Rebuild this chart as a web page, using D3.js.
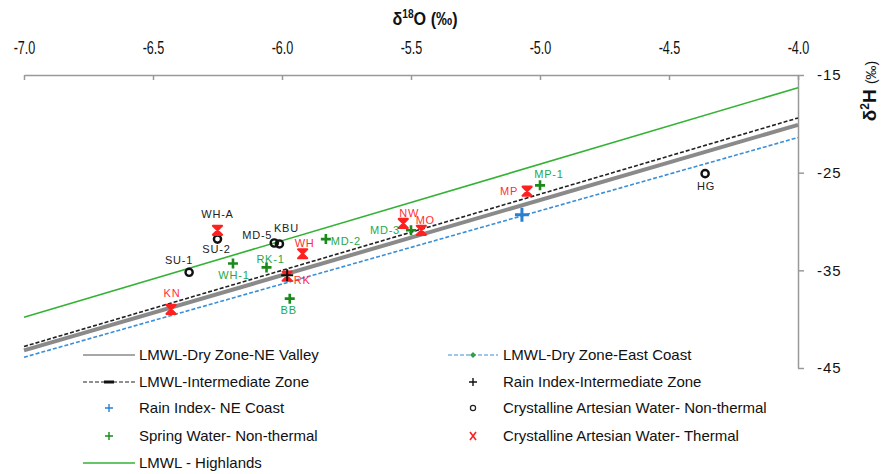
<!DOCTYPE html>
<html>
<head>
<meta charset="utf-8">
<script src="https://cdn.jsdelivr.net/npm/d3@7"></script>
<style>
  body { margin: 0; background: #fff; }
  svg { font-family: "Liberation Sans", Arial, sans-serif; }
</style>
</head>
<body>
<div id="chart"></div>
<script>
// LMWL lines, values at both ends of the x range
var lineX = [-7.0, -4.0];
var highlandsY = [-39.8, -16.3];
var neValleyY = [-43.2, -20.1];
var intermediateY = [-42.8, -19.4];
var eastCoastY = [-43.9, -21.4];

// Crystalline artesian water - non-thermal
var nonThermalNames = ["SU-1", "SU-2", "MD-5", "KBU", "HG"];
var nonThermalX = [-6.36, -6.25, -6.03, -6.01, -4.36];
var nonThermalY = [-35.2, -31.8, -32.2, -32.3, -25.1];

// Crystalline artesian water - thermal
var thermalNames = ["KN", "WH-A", "WH", "RK", "NW", "MO", "MP"];
var thermalX = [-6.43, -6.25, -5.92, -5.98, -5.53, -5.46, -5.05];
var thermalY = [-39.0, -30.9, -33.3, -35.6, -30.2, -30.9, -26.9];

// Spring water - non-thermal
var springNames = ["WH-1", "RK-1", "MD-2", "BB", "MD-3", "MP-1"];
var springX = [-6.19, -6.06, -5.83, -5.97, -5.50, -5.00];
var springY = [-34.3, -34.7, -31.8, -37.9, -30.9, -26.3];

// rain indexes
var rainNEX = [-5.07], rainNEY = [-29.3];
var rainInterX = [-5.98], rainInterY = [-35.5];

var xTicks = [-7.0, -6.5, -6.0, -5.5, -5.0, -4.5, -4.0];
var yTicks = [-15, -25, -35, -45];

var legendLeft = ["LMWL-Dry Zone-NE Valley", "LMWL-Intermediate Zone", "Rain Index- NE Coast", "Spring Water- Non-thermal", "LMWL - Highlands"];
var legendRight = ["LMWL-Dry Zone-East Coast", "Rain Index-Intermediate Zone", "Crystalline Artesian Water- Non-thermal", "Crystalline Artesian Water- Thermal"];

// thermal sample whose label is printed in black
var blackLabels = ["WH-A"];

// label offsets (px) for the point names
var nonThermalOff = [[-10, -12], [-1, 10], [-17, -8], [7, -16], [1, 13]];
var thermalOff = [[1, -16], [0, -16], [2, -11], [15, 4], [6, -10], [4, -10], [-18, 0]];
var springOff = [[1, 12], [4, -8], [20, 2], [-1, 11], [-26, 0], [9, -11]];

var W = 883, H = 474;
var svg = d3.select("#chart").append("svg")
    .attr("width", W).attr("height", H);

var x = d3.scaleLinear().domain([-7, -4]).range([24, 798]);
var y = d3.scaleLinear().domain([-15, -45]).range([75, 368]);

// top axis
var xAxis = svg.append("g")
    .attr("transform", "translate(0," + y(-15) + ")")
    .call(d3.axisTop(x).tickValues(xTicks).tickSizeInner(-5).tickSizeOuter(0).tickPadding(21)
        .tickFormat(function(d) { return d.toFixed(1); }));
xAxis.selectAll("text")
    .attr("transform", "scale(0.7,1)")
    .style("font-size", "18px").attr("fill", "#111");

// right axis
var yAxis = svg.append("g")
    .attr("transform", "translate(" + x(-4) + ",0)")
    .call(d3.axisRight(y).tickValues(yTicks).tickSizeInner(6).tickSizeOuter(0).tickPadding(13)
        .tickFormat(function(d) { return d; }));
yAxis.selectAll("text")
    .style("font-size", "15px").style("letter-spacing", "1px").attr("fill", "#111");

svg.selectAll(".domain, .tick line").attr("stroke", "#999").attr("stroke-width", 1.5);

// axis titles
var xt = svg.append("text").attr("transform", "translate(425,25) scale(0.85,1)").attr("text-anchor", "middle")
    .style("font-weight", "bold").style("font-size", "19px").attr("fill", "#111");
xt.append("tspan").text("δ");
xt.append("tspan").attr("dy", -7).style("font-size", "12px").text("18");
xt.append("tspan").attr("dy", 7).text("O (‰)");

var yt = svg.append("text").attr("transform", "translate(876,91) rotate(-90)")
    .attr("text-anchor", "middle").attr("fill", "#111").style("font-size", "19px");
yt.append("tspan").style("font-weight", "bold").text("δ");
yt.append("tspan").attr("dy", -7).style("font-size", "12px").style("font-weight", "bold").text("2");
yt.append("tspan").attr("dy", 7).style("font-weight", "bold").text("H ");
yt.append("tspan").style("font-size", "14px").text("(‰)");

// LMWL lines
var line = d3.line().x(function(d) { return x(d[0]); }).y(function(d) { return y(d[1]); });
function pairs(ys) { return lineX.map(function(v, i) { return [v, ys[i]]; }); }

svg.append("path").datum(pairs(highlandsY)).attr("d", line)
    .attr("fill", "none").attr("stroke", "#33b233").attr("stroke-width", 1.6);
svg.append("path").datum(pairs(neValleyY)).attr("d", line)
    .attr("fill", "none").attr("stroke", "#8a8a8a").attr("stroke-width", 4);
svg.append("path").datum(pairs(intermediateY)).attr("d", line)
    .attr("fill", "none").attr("stroke", "#222").attr("stroke-width", 1.6).attr("stroke-dasharray", "4,2");
svg.append("path").datum(pairs(eastCoastY)).attr("d", line)
    .attr("fill", "none").attr("stroke", "#3a8fd8").attr("stroke-width", 1.6).attr("stroke-dasharray", "4,2");

function zip(names, xs, ys, offs) {
    return xs.map(function(v, i) { return {name: names ? names[i] : "", x: v, y: ys[i], off: offs ? offs[i] : [0, 0]}; });
}

var plusPath = function(s) { return "M" + (-s) + ",0H" + s + "M0," + (-s) + "V" + s; };
var glassPath = function(s) { return "M" + (-s) + "," + (-s) + "H" + s + "L" + (-s) + "," + s + "H" + s + "Z"; };

// spring water
svg.append("g").selectAll("path").data(zip(springNames, springX, springY, springOff)).enter()
    .append("path").attr("d", plusPath(5))
    .attr("transform", function(d) { return "translate(" + x(d.x) + "," + y(d.y) + ")"; })
    .attr("stroke", "#1a8a1a").attr("stroke-width", 2.6).attr("fill", "none");

// rain index NE coast
svg.append("g").selectAll("path").data(zip(null, rainNEX, rainNEY)).enter()
    .append("path").attr("d", plusPath(7))
    .attr("transform", function(d) { return "translate(" + x(d.x) + "," + y(d.y) + ")"; })
    .attr("stroke", "#2a7fd0").attr("stroke-width", 3).attr("fill", "none");

// non-thermal
svg.append("g").selectAll("circle").data(zip(nonThermalNames, nonThermalX, nonThermalY, nonThermalOff)).enter()
    .append("circle").attr("cx", function(d) { return x(d.x); }).attr("cy", function(d) { return y(d.y); })
    .attr("r", 3.6).attr("fill", "none").attr("stroke", "#111").attr("stroke-width", 2.4);

// thermal
svg.append("g").selectAll("path").data(zip(thermalNames, thermalX, thermalY, thermalOff)).enter()
    .append("path").attr("d", glassPath(4.5))
    .attr("transform", function(d) { return "translate(" + x(d.x) + "," + y(d.y) + ")"; })
    .attr("stroke", "#ff2020").attr("stroke-width", 2.2).attr("fill", "#ff2020").attr("stroke-linejoin", "round");

// rain index intermediate
svg.append("g").selectAll("path").data(zip(null, rainInterX, rainInterY)).enter()
    .append("path").attr("d", plusPath(6))
    .attr("transform", function(d) { return "translate(" + x(d.x) + "," + y(d.y) + ")"; })
    .attr("stroke", "#111").attr("stroke-width", 2).attr("fill", "none");

// point labels
function labels(data, color) {
    svg.append("g").selectAll("text").data(data).enter().append("text")
        .attr("x", function(d) { return x(d.x) + d.off[0]; })
        .attr("y", function(d) { return y(d.y) + d.off[1]; })
        .attr("dy", "0.35em").attr("text-anchor", "middle")
        .style("font-size", "11px").style("letter-spacing", "0.8px")
        .attr("fill", function(d) { return blackLabels.indexOf(d.name) >= 0 ? "#222" : color; })
        .text(function(d) { return d.name; });
}
labels(zip(nonThermalNames, nonThermalX, nonThermalY, nonThermalOff), "#222");
labels(zip(thermalNames, thermalX, thermalY, thermalOff), "#ff3030");
labels(zip(springNames, springX, springY, springOff), "#1fa84a");

// legend
var rowY = [355, 382, 408, 436, 463];
var lg = svg.append("g").style("font-size", "15px").attr("fill", "#111");

function legendText(tx, ty, t) {
    lg.append("text").attr("x", tx).attr("y", ty).attr("dy", "0.35em").text(t);
}
legendLeft.forEach(function(t, i) { legendText(139, rowY[i], t); });
legendRight.forEach(function(t, i) { legendText(503, rowY[i], t); });

// left symbols
lg.append("line").attr("x1", 83).attr("x2", 135).attr("y1", rowY[0]).attr("y2", rowY[0])
    .attr("stroke", "#8a8a8a").attr("stroke-width", 1.5);
lg.append("line").attr("x1", 83).attr("x2", 135).attr("y1", rowY[1]).attr("y2", rowY[1])
    .attr("stroke", "#222").attr("stroke-width", 1.2).attr("stroke-dasharray", "4,2");
lg.append("line").attr("x1", 104).attr("x2", 114).attr("y1", rowY[1]).attr("y2", rowY[1])
    .attr("stroke", "#111").attr("stroke-width", 3);
lg.append("path").attr("d", plusPath(4)).attr("transform", "translate(109," + rowY[2] + ")")
    .attr("stroke", "#2a7fd0").attr("stroke-width", 1.4);
lg.append("path").attr("d", plusPath(4)).attr("transform", "translate(109," + rowY[3] + ")")
    .attr("stroke", "#1a8a1a").attr("stroke-width", 1.4);
lg.append("line").attr("x1", 83).attr("x2", 135).attr("y1", rowY[4]).attr("y2", rowY[4])
    .attr("stroke", "#33b233").attr("stroke-width", 1.5);

// right symbols
lg.append("line").attr("x1", 448).attr("x2", 498).attr("y1", rowY[0]).attr("y2", rowY[0])
    .attr("stroke", "#3a8fd8").attr("stroke-width", 1.2).attr("stroke-dasharray", "4,2");
lg.append("path").attr("d", "M-3,0L0,-3L3,0L0,3Z").attr("transform", "translate(473," + rowY[0] + ")")
    .attr("fill", "#2fa04a");
lg.append("path").attr("d", plusPath(4)).attr("transform", "translate(473," + rowY[1] + ")")
    .attr("stroke", "#111").attr("stroke-width", 1.4);
lg.append("circle").attr("cx", 473).attr("cy", rowY[2]).attr("r", 2.6)
    .attr("fill", "none").attr("stroke", "#222").attr("stroke-width", 1.2);
lg.append("path").attr("d", "M-3,-4L3,4M3,-4L-3,4").attr("transform", "translate(473," + rowY[3] + ")")
    .attr("stroke", "#ff2020").attr("stroke-width", 1.6);
</script>
</body>
</html>
